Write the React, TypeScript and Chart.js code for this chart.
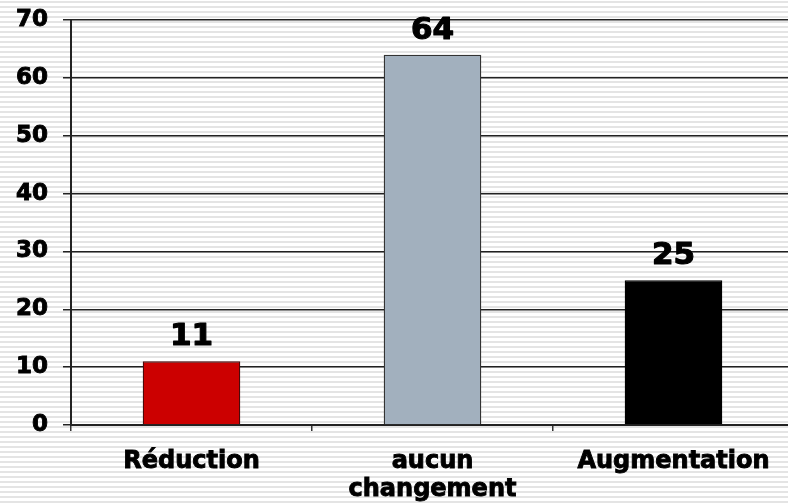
import React, { useEffect, useRef } from "react";
import { Chart, registerables } from "chart.js";
Chart.register(...registerables);

const categories: (string | string[])[] = ["Réduction", ["aucun", "changement"], "Augmentation"];
const values = [11, 64, 25];
const barColors = ["#cc0000", "#a2b0be", "#000000"];
const yTicks = [0, 10, 20, 30, 40, 50, 60, 70];

const FONT = "'DejaVu Sans', Verdana, sans-serif";

const stripes = {
  id: "stripes",
  beforeDraw(chart: any) {
    const { ctx, width, height } = chart;
    ctx.save();
    ctx.fillStyle = "#ffffff";
    ctx.fillRect(0, 0, width, height);
    ctx.fillStyle = "#e4e4e4";
    for (let y = 1; y < height; y += 5) {
      ctx.fillRect(0, y, width, 2);
    }
    ctx.restore();
  },
};

const dataLabels = {
  id: "dataLabels",
  afterDatasetsDraw(chart: any) {
    const { ctx } = chart;
    const meta = chart.getDatasetMeta(0);
    ctx.save();
    ctx.font = `bold 31px ${FONT}`;
    ctx.fillStyle = "#000";
    ctx.strokeStyle = "#000";
    ctx.lineWidth = 1.2;
    ctx.lineJoin = "round";
    ctx.textAlign = "center";
    ctx.textBaseline = "alphabetic";
    meta.data.forEach((bar: any, i: number) => {
      ctx.strokeText(String(values[i]), bar.x, bar.y - 16);
      ctx.fillText(String(values[i]), bar.x, bar.y - 16);
    });
    ctx.restore();
  },
};

export default function App() {
  const ref = useRef<HTMLCanvasElement>(null);
  useEffect(() => {
    document.body.style.margin = "0";
    document.body.style.overflow = "hidden";
    const chart = new Chart(ref.current!, {
      type: "bar",
      data: {
        labels: categories as any,
        datasets: [
          {
            data: values,
            backgroundColor: barColors,
            borderColor: ["#4a0a0a", "#333333", "#000000"],
            borderWidth: 1.3,
            barPercentage: 0.405,
            categoryPercentage: 1,
          },
        ],
      },
      options: {
        animation: false,
        responsive: false,
        maintainAspectRatio: false,
        layout: { padding: { top: 20, right: 6, left: 0, bottom: 0 } },
        plugins: { legend: { display: false }, tooltip: { enabled: false } },
        scales: {
          x: {
            offset: true,
            grid: {
              offset: true,
              drawOnChartArea: false,
              drawTicks: true,
              tickLength: 6,
              color: "#333",
              lineWidth: 1.5,
            },
            border: { display: true, color: "#222", width: 2 },
            ticks: {
              color: "#000",
              font: { family: FONT, size: 24, weight: "bold", lineHeight: 1.15 },
              padding: 17,
              maxRotation: 0,
              autoSkip: false,
              textStrokeColor: "#000",
              textStrokeWidth: 0.9,
            },
            afterFit(scale: any) {
              scale.height = 79;
              scale.paddingLeft = 0;
              scale.paddingRight = 0;
            },
          },
          y: {
            min: 0,
            max: 70,
            afterBuildTicks(scale: any) {
              scale.ticks = yTicks.map((v) => ({ value: v }));
            },
            grid: {
              color: "#222",
              lineWidth: 1.5,
              tickLength: 8,
              drawTicks: true,
            },
            border: { display: true, color: "#222", width: 2 },
            ticks: {
              color: "#000",
              font: { family: FONT, size: 23, weight: "bold" },
              padding: 15,
              textStrokeColor: "#000",
              textStrokeWidth: 0.9,
            },
            afterFit(scale: any) {
              scale.width = 71;
              scale.paddingTop = 0;
              scale.paddingBottom = 0;
            },
          },
        },
      },
      plugins: [stripes, dataLabels],
    } as any);
    return () => chart.destroy();
  }, []);
  return (
    <div style={{ position: "fixed", left: 0, top: 0, width: 788, height: 504, overflow: "hidden" }}>
      <canvas ref={ref} width={800} height={504} style={{ display: "block", width: 800, height: 504 }} />
    </div>
  );
}
